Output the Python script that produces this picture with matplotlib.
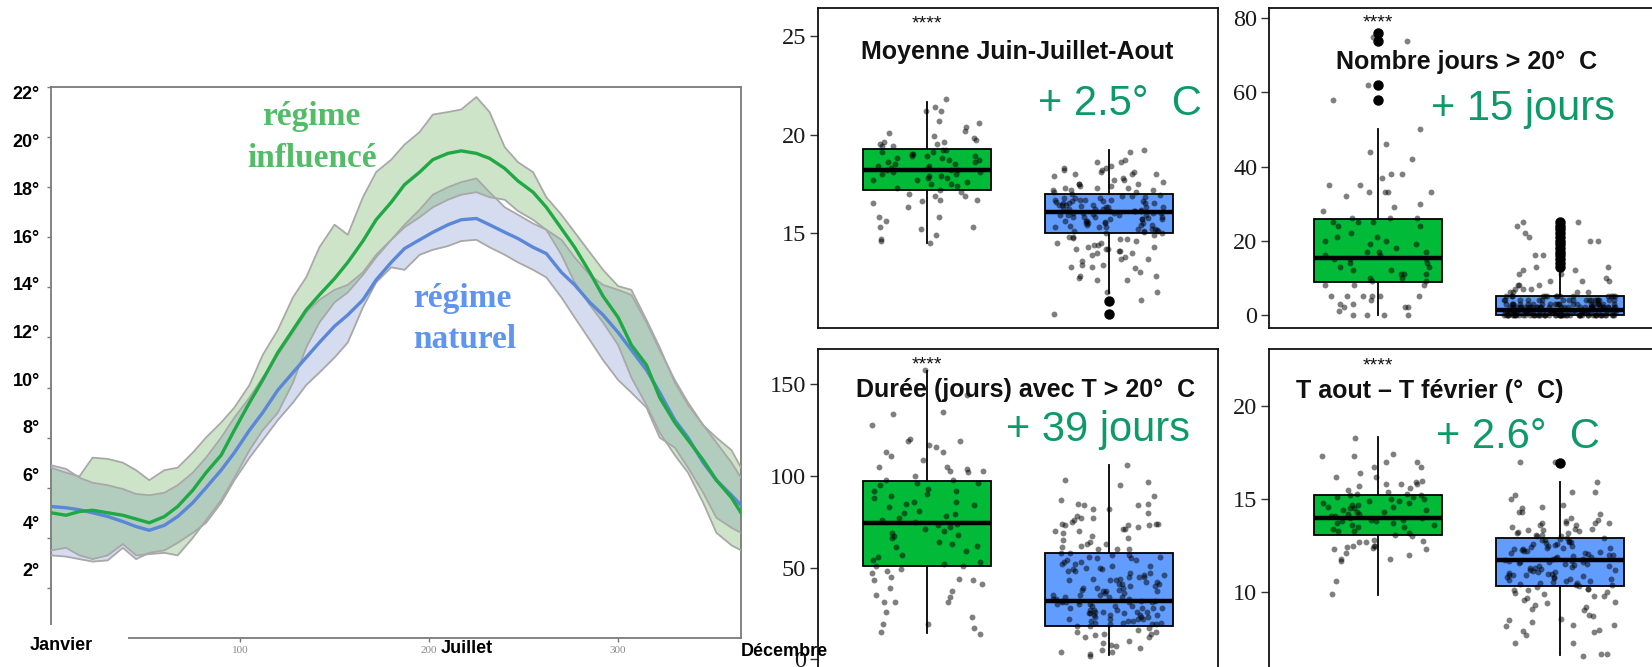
import numpy as np
import matplotlib
matplotlib.use("Agg")
import matplotlib.pyplot as plt
from matplotlib.patches import Rectangle

# ---------------- seasonal temperature curves (day of year, °C) ----------------
days = [0, 8, 15, 22, 30, 38, 45, 52, 60, 67, 75, 82, 90, 97, 105, 112, 120, 128,
        135, 142, 150, 157, 165, 172, 180, 187, 195, 202, 210, 217, 225, 232, 240,
        247, 255, 262, 270, 277, 285, 292, 300, 307, 315, 322, 330, 337, 345, 352,
        360, 365]

infl_mean = [5.0, 4.9, 5.05, 5.1, 5.0, 4.9, 4.75, 4.6, 4.85, 5.25, 5.9, 6.6, 7.3,
             8.3, 9.4, 10.3, 11.4, 12.3, 13.1, 13.7, 14.35, 15.0, 15.85, 16.7, 17.4,
             18.1, 18.6, 19.1, 19.35, 19.45, 19.35, 19.15, 18.75, 18.25, 17.8, 17.2,
             16.35, 15.6, 14.6, 13.65, 12.8, 11.7, 10.9, 9.6, 8.6, 7.9, 7.1, 6.3,
             5.6, 5.0]
infl_hi = [6.8, 6.6, 6.45, 7.2, 7.15, 7.0, 6.7, 6.3, 6.7, 6.8, 7.4, 8.0, 8.6, 9.2,
           10.1, 11.3, 12.3, 13.6, 14.4, 15.6, 16.5, 16.1, 17.6, 18.6, 19.1, 19.7,
           20.2, 20.9, 21.0, 21.1, 21.6, 21.0, 19.6, 19.0, 18.6, 17.6, 16.9, 16.2,
           15.4, 14.7, 14.05, 13.9, 12.7, 11.6, 10.2, 9.3, 8.5, 8.0, 7.5, 6.8]
infl_lo = [3.5, 3.6, 3.3, 3.15, 3.3, 3.75, 3.3, 3.35, 3.4, 3.3, 4.0, 4.7, 5.5, 6.4,
           7.5, 8.3, 9.0, 10.2, 11.6, 12.6, 13.4, 13.8, 14.5, 15.2, 15.9, 16.4, 16.8,
           17.2, 17.5, 17.7, 17.8, 17.6, 17.5, 17.05, 16.7, 16.3, 15.3, 14.2, 13.3,
           12.6, 11.7, 10.4, 9.3, 8.2, 7.3, 6.6, 5.4, 4.2, 3.7, 3.5]

nat_mean = [5.25, 5.2, 5.12, 5.0, 4.85, 4.65, 4.45, 4.3, 4.5, 4.85, 5.4, 6.0, 6.7,
            7.4, 8.3, 9.0, 9.9, 10.6, 11.2, 11.8, 12.45, 12.9, 13.5, 14.3, 15.0,
            15.55, 15.9, 16.2, 16.5, 16.7, 16.75, 16.5, 16.2, 15.95, 15.6, 15.35,
            14.6, 14.1, 13.4, 12.9, 12.2, 11.5, 10.7, 9.8, 8.7, 8.0, 7.0, 6.3, 5.7,
            5.3]
nat_hi = [6.9, 6.75, 6.4, 6.2, 6.1, 5.95, 5.75, 5.7, 5.8, 6.1, 6.6, 7.2, 8.0, 8.8,
          9.6, 10.4, 11.3, 12.2, 13.0, 13.5, 13.9, 14.1, 14.6, 15.3, 15.9, 16.5,
          17.1, 17.7, 18.0, 18.2, 18.35, 17.8, 17.2, 16.9, 16.55, 16.3, 15.9, 15.2,
          14.5, 14.1, 13.9, 13.7, 12.6, 11.5, 10.3, 9.4, 8.5, 7.8, 7.0, 6.4]
nat_lo = [3.3, 3.25, 3.15, 3.05, 3.1, 3.6, 3.15, 3.4, 3.5, 3.8, 4.2, 4.6, 5.4, 6.3,
          7.2, 7.9, 8.7, 9.4, 10.1, 10.6, 11.2, 11.8, 13.2, 14.2, 14.8, 14.7, 15.3,
          15.5, 15.65, 15.85, 15.9, 15.6, 15.3, 15.0, 14.7, 14.4, 13.6, 12.8, 11.9,
          11.1, 10.3, 9.8, 9.2, 8.0, 7.6, 6.8, 5.8, 4.8, 4.4, 4.2]

temp_ticks = [2, 4, 6, 8, 10, 12, 14, 16, 18, 20, 22]
temp_labels = [f"{t}°" for t in temp_ticks]
day_ticks = [100, 200, 300]
month_labels = ["Janvier", "Juillet", "Décembre"]

# ---------------- box-plot panels ----------------
groups = ["influencé", "naturel"]
# box statistics: [lower whisker, Q1, median, Q3, upper whisker]
jja_box_infl = [14.5, 17.2, 18.2, 19.25, 21.65]
jja_box_nat = [11.95, 15.0, 16.05, 17.0, 19.2]
jja_out_infl = []
jja_out_nat = [11.55, 10.9]
jja_pts_infl = [21.8, 21.4, 21.2, 21.2, 20.7, 20.6, 20.4, 20.2, 20.1, 19.9, 19.8, 19.7,
                19.6, 19.6, 19.5, 19.5, 19.4, 19.4, 19.2, 19.2, 19.1, 19.1, 19.0, 19.0,
                18.9, 18.9, 18.9, 18.8, 18.8, 18.7, 18.7, 18.6, 18.6, 18.5, 18.5, 18.4,
                18.4, 18.3, 18.3, 18.2, 18.2, 18.2, 18.1, 18.1, 18.0, 18.0, 17.9, 17.9,
                17.8, 17.8, 17.7, 17.7, 17.6, 17.5, 17.5, 17.4, 17.3, 17.2, 17.1, 17.0,
                16.9, 16.9, 16.7, 16.7, 16.6, 16.5, 16.3, 15.8, 15.8, 15.6, 15.3, 15.3,
                15.2, 14.9, 14.7, 14.6, 14.5]
jja_pts_nat = [19.2, 19.1, 18.7, 18.6, 18.6, 18.4, 18.3, 18.3, 18.2, 18.2, 18.1, 18.1,
               18.0, 18.0, 18.0, 17.9, 17.8, 17.7, 17.7, 17.6, 17.5, 17.5, 17.5, 17.4,
               17.4, 17.3, 17.3, 17.3, 17.2, 17.2, 17.2, 17.1, 17.1, 17.0, 16.95, 16.9,
               16.9, 16.85, 16.8, 16.8, 16.8, 16.7, 16.7, 16.7, 16.7, 16.6, 16.6, 16.6,
               16.55, 16.5, 16.5, 16.5, 16.5, 16.4, 16.4, 16.4, 16.4, 16.35, 16.3, 16.3,
               16.3, 16.3, 16.2, 16.2, 16.2, 16.2, 16.15, 16.1, 16.1, 16.1, 16.1, 16.0,
               16.0, 16.0, 16.0, 16.0, 15.95, 15.9, 15.9, 15.9, 15.9, 15.8, 15.8, 15.8,
               15.8, 15.75, 15.7, 15.7, 15.7, 15.7, 15.6, 15.6, 15.6, 15.55, 15.5, 15.5,
               15.5, 15.5, 15.4, 15.4, 15.4, 15.35, 15.3, 15.3, 15.3, 15.2, 15.2, 15.2,
               15.15, 15.1, 15.1, 15.1, 15.05, 15.0, 15.0, 14.9, 14.8, 14.8, 14.75, 14.7,
               14.7, 14.6, 14.5, 14.5, 14.4, 14.4, 14.3, 14.3, 14.2, 14.2, 14.2, 14.1,
               14.1, 14.0, 14.0, 13.9, 13.8, 13.7, 13.7, 13.6, 13.4, 13.4, 13.3, 13.3,
               13.2, 13.0, 12.8, 12.8, 12.7, 12.6, 12.6, 12.0, 12.0, 11.6, 10.9]

n20_box_infl = [0, 8.9, 15.2, 25.9, 50]
n20_box_nat = [0, 0, 1.3, 5.1, 12]
n20_out_infl = [76, 74, 62, 58]
n20_out_nat = [13, 14, 15, 16, 17, 18, 19, 20, 21, 22, 23, 24, 25]
n20_pts_infl = [75, 74, 62, 58, 50, 46, 44, 42, 38, 38, 37, 35, 35, 33, 33, 33, 33, 32,
                30, 29, 28, 26, 26, 26, 25, 25, 25, 24, 24, 22, 21, 21, 20, 20, 19, 19,
                18, 17, 17, 17, 16, 16, 15, 15, 15, 14, 14, 13, 13, 12, 12, 11, 11, 11,
                10, 10, 9, 9, 8, 8, 8, 5, 5, 5, 5, 5, 5, 4, 3, 3, 2, 2, 2, 1, 0, 0, 0, 0]
n20_pts_nat_high = [25, 25, 24, 22, 21, 20, 20, 18, 16, 16, 13, 13, 12, 12, 11, 11, 10,
                    9, 9, 9, 8, 8, 8, 7, 7, 7, 6, 6, 6, 6]
n20_low_values = [0, 1, 2, 3, 4, 5]
n20_low_counts = [55, 42, 30, 22, 18, 14]

dur_box_infl = [14.2, 51.1, 74.6, 97.3, 157.5]
dur_box_nat = [2.4, 18.2, 32.0, 58.2, 106.1]
dur_out_infl = []
dur_out_nat = []
dur_pts_infl = [158, 144, 135, 134, 128, 120, 119, 119, 117, 116, 113, 113, 111, 109,
                105, 105, 104, 103, 103, 102, 100, 98, 98, 96, 96, 95, 93, 92, 92, 90,
                89, 88, 86, 86, 85, 84, 83, 81, 80, 79, 78, 77, 76, 75, 74, 73, 72, 71,
                70, 69, 68, 67, 66, 64, 63, 62, 61, 59, 57, 56, 54, 53, 52, 51, 51, 49,
                48, 47, 45, 44, 43, 43, 41, 39, 37, 35, 34, 31, 31, 31, 26, 23, 19, 19,
                17, 15, 14]
dur_pts_nat = [106, 98, 97, 95, 89, 87, 85, 85, 84, 84, 82, 82, 80, 78, 77, 77, 76, 75,
               74, 74, 74, 73, 73, 73, 72, 71, 71, 70, 70, 69, 67, 66, 65, 64, 63, 63,
               62, 61, 60, 60, 60, 58, 58, 57, 57, 56, 56, 55, 55, 54, 54, 53, 53, 52,
               52, 51, 51, 50, 50, 49, 49, 48, 48, 47, 47, 46, 46, 45, 45, 45, 44, 44,
               43, 43, 43, 42, 42, 41, 41, 41, 40, 40, 39, 39, 39, 38, 38, 37, 37, 37,
               36, 36, 35, 35, 35, 34, 34, 34, 33, 33, 33, 32, 32, 32, 32, 31, 31, 31,
               31, 30, 30, 30, 29, 29, 29, 28, 28, 28, 28, 27, 27, 27, 26, 26, 26, 26,
               25, 25, 25, 24, 24, 24, 24, 23, 23, 23, 22, 22, 22, 22, 21, 21, 21, 20,
               20, 20, 19, 19, 19, 18, 18, 17, 16, 15, 15, 14, 14, 13, 12, 12, 10, 9,
               8, 7, 6, 5, 4, 4, 3, 2]

amp_box_infl = [9.86, 13.08, 14.0, 15.22, 18.32]
amp_box_nat = [6.64, 10.34, 11.74, 12.92, 15.94]
amp_out_infl = []
amp_out_nat = [16.96]
amp_pts_infl = [18.3, 17.4, 17.3, 17.3, 17.0, 17.0, 16.7, 16.7, 16.4, 16.2, 16.2, 16.0,
                15.9, 15.8, 15.8, 15.8, 15.7, 15.6, 15.5, 15.4, 15.3, 15.3, 15.2, 15.2,
                15.1, 15.1, 15.0, 15.0, 14.9, 14.9, 14.8, 14.8, 14.7, 14.7, 14.6, 14.6,
                14.5, 14.5, 14.4, 14.4, 14.3, 14.3, 14.2, 14.2, 14.1, 14.1, 14.0, 14.0,
                13.9, 13.9, 13.8, 13.8, 13.7, 13.7, 13.6, 13.6, 13.5, 13.5, 13.4, 13.3,
                13.3, 13.2, 13.1, 13.0, 12.8, 12.75, 12.7, 12.7, 12.5, 12.5, 12.5, 12.45,
                12.35, 12.3, 12.3, 12.1, 12.0, 11.8, 11.8, 11.7, 10.6, 9.9]
amp_pts_nat = [17.0, 17.0, 15.9, 15.4, 15.4, 15.2, 15.0, 14.7, 14.6, 14.5, 14.3, 14.3,
               14.2, 14.0, 13.9, 13.8, 13.7, 13.7, 13.7, 13.7, 13.6, 13.6, 13.5, 13.4,
               13.4, 13.35, 13.35, 13.3, 13.25, 13.2, 13.2, 13.1, 13.1, 13.0, 13.0,
               12.9, 12.9, 12.85, 12.8, 12.8, 12.75, 12.7, 12.7, 12.65, 12.6, 12.6,
               12.55, 12.5, 12.5, 12.45, 12.4, 12.4, 12.35, 12.3, 12.3, 12.25, 12.2,
               12.2, 12.15, 12.1, 12.1, 12.05, 12.0, 12.0, 11.95, 11.9, 11.9, 11.85,
               11.8, 11.8, 11.75, 11.7, 11.7, 11.65, 11.6, 11.6, 11.55, 11.5, 11.5,
               11.45, 11.4, 11.4, 11.35, 11.3, 11.3, 11.25, 11.2, 11.2, 11.15, 11.1,
               11.1, 11.05, 11.0, 11.0, 10.95, 10.9, 10.9, 10.85, 10.8, 10.8, 10.75,
               10.7, 10.7, 10.65, 10.6, 10.6, 10.55, 10.5, 10.5, 10.45, 10.4, 10.4,
               10.35, 10.3, 10.2, 10.2, 10.1, 10.1, 10.0, 9.95, 9.9, 9.8, 9.8, 9.7, 9.6,
               9.5, 9.4, 9.3, 9.2, 9.1, 9.05, 8.8, 8.7, 8.55, 8.5, 8.4, 8.25, 8.25, 8.2,
               8.0, 7.9, 7.85, 7.7, 7.3, 7.3, 6.7, 6.7, 6.6]

panel_titles = ["Moyenne Juin-Juillet-Aout", "Nombre jours > 20°  C",
                "Durée (jours) avec T > 20°  C", "T aout – T février (°  C)"]
panel_gains = ["+ 2.5°  C", "+ 15 jours", "+ 39 jours", "+ 2.6°  C"]
signif = "****"

# ---------------- styling ----------------
W, H = 1652, 667
INFL_BOX, NAT_BOX = "#00BA38", "#619CFF"
GAIN_COLOR = "#0e9a68"
SANS = "Liberation Sans"
SERIF = "Liberation Serif"

fig = plt.figure(figsize=(W / 100, H / 100), dpi=100)


def rect(l, t, r, b):
    return [l / W, 1 - b / H, (r - l) / W, (b - t) / H]


def put(x, y, s, **kw):
    fig.text(x / W, 1 - y / H, s, **kw)


# ================= seasonal chart =================
ax = fig.add_axes(rect(51, 87, 741, 638))
ax.set_xlim(0, 365)
ax.set_ylim(0, 22)
ax.fill_between(days, nat_lo, nat_hi, color=(138 / 255, 155 / 255, 212 / 255),
                alpha=0.35, lw=0, zorder=1)
ax.fill_between(days, infl_lo, infl_hi, color=(112 / 255, 178 / 255, 98 / 255),
                alpha=0.35, lw=0, zorder=2)
for edge in (nat_lo, nat_hi, infl_lo, infl_hi):
    ax.plot(days, edge, color="#a8a8a8", lw=1.3, zorder=3)
ax.plot(days, nat_mean, color="#5a87d7", lw=2.4, zorder=4)
ax.plot(days, infl_mean, color="#20a845", lw=2.4, zorder=5)

for sp in ax.spines.values():
    sp.set_color("#7a7a7a")
    sp.set_linewidth(1.3)
ax.set_yticks(temp_ticks)
ax.set_yticklabels([])
ax.tick_params(axis="y", length=3, width=1, color="#7a7a7a", direction="out")
ax.set_xticks(day_ticks)
ax.set_xticklabels([str(d) for d in day_ticks], fontsize=8, color="#8a8a8a",
                   family=SERIF)
ax.tick_params(axis="x", length=3, width=1, color="#7a7a7a", direction="out", pad=3)

# temperature labels, set on their own scale beside the axis
ax_lbl = fig.add_axes(rect(51, 87, 741, 638))
ax_lbl.set_ylim(-0.851, 22.25)
ax_lbl.patch.set_visible(False)
for sp in ax_lbl.spines.values():
    sp.set_visible(False)
ax_lbl.set_xticks([])
ax_lbl.set_yticks(temp_ticks)
ax_lbl.set_yticklabels(temp_labels, fontsize=13, fontweight="bold", family=SANS)
ax_lbl.tick_params(axis="y", length=0, pad=8)

# blank corner under the month label
fig.add_artist(Rectangle((0, 0), 128 / W, (H - 625) / H, transform=fig.transFigure,
                         facecolor="white", edgecolor="none", zorder=5))

put(61, 650, month_labels[0], ha="center", va="baseline", fontsize=13,
    fontweight="bold", family=SANS, zorder=6)
put(467, 653, month_labels[1], ha="center", va="baseline", fontsize=13,
    fontweight="bold", family=SANS, zorder=6)
put(784, 656, month_labels[2], ha="center", va="baseline", fontsize=13,
    fontweight="bold", family=SANS, zorder=6)

put(311, 125, "régime", ha="center", va="baseline", fontsize=24, fontweight="bold",
    family=SERIF, color="#52bc66")
put(312, 167, "influencé", ha="center", va="baseline", fontsize=24, fontweight="bold",
    family=SERIF, color="#52bc66")
put(413, 307, "régime", ha="left", va="baseline", fontsize=24, fontweight="bold",
    family=SERIF, color="#5f95ef")
put(413, 348, "naturel", ha="left", va="baseline", fontsize=24, fontweight="bold",
    family=SERIF, color="#5f95ef")


# ================= box-plot panels =================
def jitter(n, half_width=0.31, phase=0.0):
    # deterministic scrambled offsets for the horizontal spread of the dots
    k = np.arange(n, dtype=float) + 1.0
    u = np.sin(k * 12.9898 + phase * 78.233) * 43758.5453
    u = u - np.floor(u)
    return (u - 0.5) * 2 * half_width


def panel(box_rect, box_stats, outliers, points, ylim, yticks, phase):
    axp = fig.add_axes(rect(*box_rect))
    stats = []
    for (lo, q1, med, q3, hi), fl in zip(box_stats, outliers):
        stats.append(dict(whislo=lo, q1=q1, med=med, q3=q3, whishi=hi, fliers=fl))
    bp = axp.bxp(stats, positions=[1, 2], widths=0.7, patch_artist=True,
                 showcaps=False,
                 boxprops=dict(edgecolor="black", linewidth=1.3),
                 medianprops=dict(color="black", linewidth=3.2),
                 whiskerprops=dict(color="black", linewidth=1.3),
                 flierprops=dict(marker="o", markerfacecolor="black",
                                 markeredgecolor="black", markersize=6.5))
    for patch, c in zip(bp["boxes"], [INFL_BOX, NAT_BOX]):
        patch.set_facecolor(c)
    for pos, vals, ph in zip([1, 2], points, [phase, phase + 0.5]):
        vals = np.asarray(vals, dtype=float)
        axp.scatter(pos + jitter(len(vals), phase=ph), vals, s=18, color="black",
                    alpha=0.5, linewidths=0, zorder=4)
    axp.set_xlim(0.4, 2.6)
    axp.set_ylim(*ylim)
    axp.set_xticks([])
    axp.set_yticks(yticks)
    axp.set_yticklabels([str(t) for t in yticks], fontsize=17.5, family=SERIF,
                        color="#1a1a1a")
    axp.tick_params(axis="y", length=5.5, width=1, color="#333333", pad=3)
    for sp in axp.spines.values():
        sp.set_color("#111111")
        sp.set_linewidth(1.3)
    return axp


panel((818, 8, 1218, 328), [jja_box_infl, jja_box_nat], [jja_out_infl, jja_out_nat],
      [jja_pts_infl, jja_pts_nat], (10.18, 26.42), [15, 20, 25], 0.11)

n20_nat_all = list(n20_pts_nat_high) + list(np.repeat(n20_low_values, n20_low_counts))
panel((1269, 8, 1669, 328), [n20_box_infl, n20_box_nat], [n20_out_infl, n20_out_nat],
      [n20_pts_infl, n20_nat_all], (-3.6, 82.8), [0, 20, 40, 60, 80], 1.37)

panel((818, 349, 1218, 669), [dur_box_infl, dur_box_nat], [dur_out_infl, dur_out_nat],
      [dur_pts_infl, dur_pts_nat], (-5.3, 169.3), [0, 50, 100, 150], 2.73)

panel((1269, 349, 1669, 669), [amp_box_infl, amp_box_nat], [amp_out_infl, amp_out_nat],
      [amp_pts_infl, amp_pts_nat], (5.88, 23.06), [10, 15, 20], 3.91)

# panel annotations
title_pos = [(1017, 59), (1467, 69), (1026, 397), (1430, 398)]
gain_pos = [(1120, 115), (1523, 120), (1098, 441), (1518, 448)]
star_pos = [(927, 28), (1378, 27), (927, 369), (1378, 370)]
for t, (x, y) in zip(panel_titles, title_pos):
    put(x, y, t, ha="center", va="baseline", fontsize=18, fontweight="bold",
        family=SANS, color="#111111", zorder=7)
for g, (x, y) in zip(panel_gains, gain_pos):
    put(x, y, g, ha="center", va="baseline", fontsize=30, family=SANS,
        color=GAIN_COLOR, zorder=7)
for (x, y) in star_pos:
    put(x, y, signif, ha="center", va="baseline", fontsize=14, family=SANS,
        color="#111111", zorder=7)

fig.savefig("out.png", dpi=100)
